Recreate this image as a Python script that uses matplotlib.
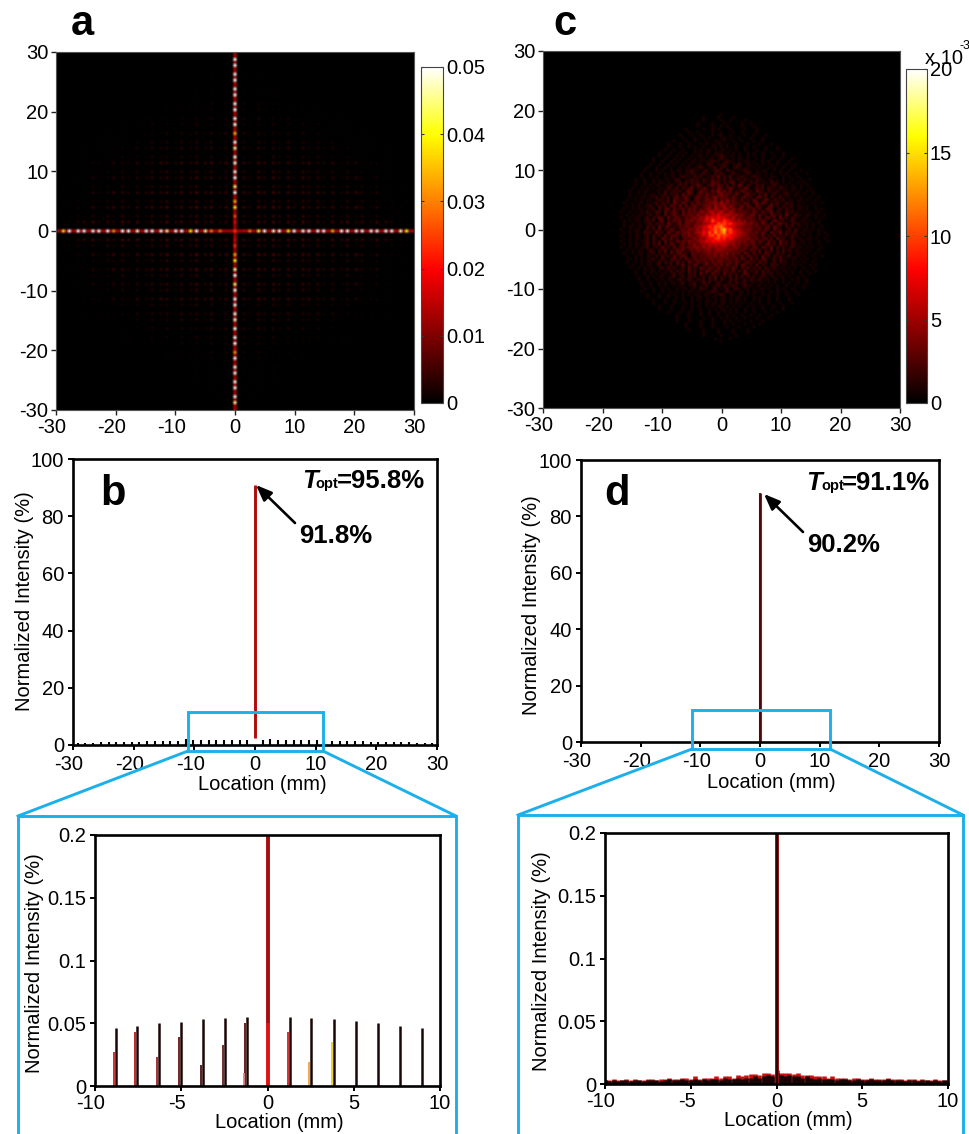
import numpy as np
import matplotlib
matplotlib.use("Agg")
import matplotlib.pyplot as plt
from matplotlib.colors import LinearSegmentedColormap
from matplotlib.transforms import ScaledTranslation

plt.rcParams['font.family'] = ['Liberation Sans', 'DejaVu Sans']
plt.rcParams['axes.unicode_minus'] = False

W, H = 969, 1134
FS = 14.5

# ---------- data ----------
spot_pitch = 1.27
# panel a: bright spots along the axes, from the centre outward (k = 1..23)
a_h_right = [.016,.030,.042,.050,.048,.052,.040,.052,.050,.054,.052,.050,.034,.052,.050,.052,.054,.050,.052,.050,.054,.048,.040]
a_h_left  = [.014,.028,.030,.046,.050,.040,.052,.050,.046,.052,.050,.052,.048,.050,.052,.032,.052,.050,.052,.054,.050,.052,.038]
a_v_up    = [.020,.026,.040,.034,.050,.044,.052,.054,.050,.052,.046,.054,.034,.052,.050,.052,.054,.050,.052,.054,.050,.052,.050]
a_v_down  = [.018,.024,.034,.040,.046,.052,.044,.050,.054,.050,.052,.048,.052,.050,.054,.032,.052,.050,.054,.052,.050,.054,.046]
a_line_level = 0.014
a_centre = 0.024
# panel a: weak spots, one quadrant, units of 1e-3 (rows k=1..23 upward, columns k=1..23 outward)
a_weak_rows = [
 "63758475846375846375321",
 "42536452635241524131211",
 "74869574857463574251210",
 "31425342534231423121101",
 "64758564756453563241110",
 "32415352434231412121001",
 "53647453645342452131100",
 "41525342534131312111000",
 "63756463564352341221000",
 "21314231323121211011000",
 "42534352434231211101000",
 "31424241323120111100000",
 "42423231312111101000000",
 "21213120212011100000000",
 "31312120111101000000000",
 "20211110101000000000000",
 "21211101100000000000000",
 "10111101000000000000000",
 "11101000000000000000000",
 "01101000000000000000000",
 "10100000000000000000000",
 "01000000000000000000000",
 "00000000000000000000000",
]
# panel c: speckle levels in units of 1e-3 on 0.5 mm cells, top row to bottom row
c_rows = [
 "1",
 "00100001000010000",
 "0000100000100100001000",
 "00010000100010000010010",
 "00001000010010100001000100",
 "0100000100101000100001000100",
 "00010010000100100010010000100",
 "001000100100010110010000100100010",
 "0001000100101000110100100010001000",
 "01000100100010011010010010001001000",
 "010001001000101010110100100010001000100",
 "00100010010100100110101001001001000100010",
 "0010010010001010110101101010010001001000100",
 "010001001010010101101110101010010100100100010",
 "00100100101001011010111210110100101001000100100",
 "0100010010100101011011012110101101001010010010001",
 "001001001010010110101121101211010110100101001000100",
 "0100100101001011011012101121011210110101001010010010",
 "01001001010010110112101120211012101101010010100100100",
 "001000101001011011211012012210211011211010110010100100010",
 "0100100101011010112101211021210121101210110101001010010001",
 "00100101001011012110212011213021201121012110101100101001000",
 "0100100101011012101121202112121202112021102110110101001001001",
 "01001001011010112021212021132202123012102120110211010100101000",
 "001001010110112012120213201231321202132021021201121101010010100",
 "0100101010110211202123021320213212320213201212021102110110100100",
 "01001011001102112120232013221324231302132120321021120110101001010",
 "010010101101120212031320231322134232132023120213012011210110100100",
 "0010101101120212023123102322313423321320231202312021120110101001001",
 "0100101011012112031213202312332413242321302132013202112011011010010",
 "010010110101202120321320313223344353423221320231320212102110101001001",
 "001010101120121203213031232133425345243123132032102312021120110100100",
 "0100101101120212303123132313244354354342331223130232012021101101001010",
 "01001010112012203123203132324435645643542323213203123021021201010100100",
 "0010101101202103123213233243354657556545342233131203212031021101101001",
 "01001011012021320312321323435476768675463432332130231203120211011001010",
 "00101011012120230213231334244576a87798654534233123201321201210110100100",
 "010010101120212032123133234355687a9a8976554342313213023120212011010100",
 "001011011021203123021323324456798bac98765443332321230321021201101010010",
 "010010110120213021320232343547689b9ce9a76543432231320312012021011010100",
 "0010101102120312032132334245586a8c9bd8a866543323132031230211201101001010",
 "01001011012021203123213243345769a8b9a98765443232130213021202110101001001",
 "0010101101202103213120232343546879a8978654434323123120312012011011010010",
 "010010101120212031213232433455768787765544342331320312031202101101001001",
 "00101011012021302132023133424546565665453423323120231203120211010100100",
 "01001010112012031203123233443545454554344323213203213021201201101010010",
 "0010101101210213021323123243344345443433232132130213020212011010100100",
 "010010110112021203123120323233434343423231320312032102120110110100100",
 "01001010110202120312320231323334243323213032120312021201201101001001",
 "00101010112012102312032132232332332322313203120320120211011010100100",
 "0100101011012021203120321322313233223132023120312012021101010100100",
 "001001011012011202130213202312323132130321203021021201101101001010",
 "01001010110120212012031203213213122132021302120211201101010010010",
 "0010010110101120212031202132132122130213021202120110110100101001",
 "01001010101101202102120312031203121201320120211201101010010010",
 "0010010101101120120212012021302112021202120121011011010010100",
 "010010010101101201210212021202102120120211201101101001010010",
 "00100100101011012011201212012101202112011011010100101001001",
 "0100100101001011011201120112021121012110110101010010010010",
 "001001001010010110110211012011201210110101101001010010001",
 "010001001001010101101101121101211011010110100101001001000",
 "0010001001010010101101110112101101101010010100100100010",
 "01000100100101001011010110110101101001010010010001000",
 "001000100100100101001101011010110100101001001000100",
 "0100010010001010010101101101010100100100100010001",
 "00100010001001010010101101010100101001000100100",
 "010001000100100100101011010100100100100100010",
 "00100010010001001001010101001001000100010",
 "0001000100010010010010100100100100010",
 "00100010000100100101001001000100010",
 "010001000100010001010010001000100",
 "0001000010001000100100010000100",
 "00100001000100001000100001000",
 "01000010000100001000010000",
 "0000100001000010000100",
 "00100000100001000",
 "0010000100",
 "1",
]
# panel b, wide view: stem heights (%) from the centre outward
b_stems_right = [1.9,2.2,1.7,1.6,1.7,1.6,1.6,1.6,1.5,1.5,1.4,1.4,1.3,1.3,1.2,1.2,1.1,1.1,1.0,0.9,0.8,0.7,0.6]
b_stems_left  = [1.7,1.6,1.7,1.6,1.8,1.6,1.6,1.7,2.1,1.5,1.4,1.4,1.3,1.3,1.2,1.2,1.1,1.0,1.0,0.9,0.8,0.7,0.6]
b_peak_low, b_peak = 2.5, 90.9
d_peak = 88.3
# panel b inset
b_in_x = [-8.8,-7.55,-6.3,-5.0,-3.75,-2.45,-1.2,1.3,2.55,3.85,5.15,6.4,7.7,8.95]
b_in_y = [.046,.048,.050,.051,.053,.054,.055,.055,.054,.053,.052,.050,.048,.046]
b_sub_x = [-8.92,-7.67,-6.42,-5.12,-3.87,-2.57,-1.32,-1.38,1.18,2.43,3.73]
b_sub_y = [.027,.043,.023,.039,.017,.033,.050,.010,.043,.019,.035]
b_sub_c = ['#d02020','#c01818','#a02020','#701010','#501010','#602020','#601010','#e08080','#d02020','#f0a040','#e8d020']
b_in_low, b_in_split, b_in_top = 0.0, 0.05, 0.2
# panel d inset: dense profile, -10..10 every 0.25 mm
d_in_x = [-10+0.25*i for i in range(81)]
d_in_black = [.003,.002,.003,.002,.003,.003,.002,.003,.003,.002,.003,.003,.003,.002,.003,.004,.003,.003,.004,.003,
 .003,.004,.003,.004,.003,.004,.004,.003,.005,.004,.004,.005,.004,.005,.005,.006,.005,.006,.007,.006,
 .009,.007,.006,.007,.006,.006,.005,.006,.005,.004,.005,.004,.004,.004,.003,.004,.004,.003,.003,.004,
 .003,.003,.004,.003,.003,.003,.004,.003,.003,.003,.002,.003,.003,.002,.003,.003,.002,.003,.002,.003,.002]
d_in_red = [.003,.003,.004,.003,.003,.004,.003,.004,.003,.003,.004,.004,.003,.004,.004,.005,.004,.004,.005,.005,
 .004,.006,.004,.005,.005,.005,.006,.005,.006,.006,.005,.007,.006,.007,.008,.008,.007,.009,.009,.008,
 .011,.009,.009,.009,.008,.009,.007,.007,.007,.006,.006,.006,.005,.006,.005,.005,.005,.004,.005,.005,
 .004,.004,.005,.004,.004,.004,.005,.004,.004,.004,.003,.004,.004,.003,.004,.003,.003,.004,.003,.003,.003]
# tick labels
heat_ticks = [-30,-20,-10,0,10,20,30]
line_yticks = [0,20,40,60,80,100]
inset_xticks = [-10,-5,0,5,10]
inset_yticks = [0,0.05,0.1,0.15,0.2]
inset_ylabels = ['0','0.05','0.1','0.15','0.2']
cb_a_ticks = [0,.01,.02,.03,.04,.05]
cb_a_labels = ['0','0.01','0.02','0.03','0.04','0.05']
cb_c_ticks = [0,5,10,15,20]

# ---------- helpers ----------
fig = plt.figure(figsize=(W/100, H/100), dpi=100, facecolor='white')

def ax_px(l, t, r, b, **kw):
    return fig.add_axes([l/W, 1-b/H, (r-l)/W, (b-t)/H], **kw)

cmap = LinearSegmentedColormap.from_list('fire', [(0,'#000000'),(0.4,'#ff0000'),(0.8,'#ffff00'),(1,'#ffffff')])

def shift_neg(ax):
    off = ScaledTranslation(-4/100, 0, fig.dpi_scale_trans)
    for lab in ax.get_xticklabels():
        if lab.get_text().startswith('-'):
            lab.set_transform(lab.get_transform() + off)

def style_heat(ax):
    ax.set_xticks(heat_ticks); ax.set_yticks(heat_ticks)
    ax.tick_params(labelsize=FS, length=3.5, width=1, color='#222222')
    ax.tick_params(axis='x', pad=2.5)
    ax.tick_params(axis='y', pad=2)
    for s in ax.spines.values():
        s.set_linewidth(0.8); s.set_color('#555555')
    shift_neg(ax)

def style_line(ax, xlim, ylim, xt, yt, yl=None, xpad=1.5):
    ax.set_xlim(xlim); ax.set_ylim(ylim)
    ax.set_xticks(xt); ax.set_yticks(yt)
    if yl: ax.set_yticklabels(yl)
    ax.tick_params(labelsize=FS, length=3.5, width=1.4, color='black')
    ax.tick_params(axis='x', pad=xpad)
    ax.tick_params(axis='y', pad=3)
    for s in ax.spines.values():
        s.set_linewidth(1.9)
    shift_neg(ax)

# ---------- panel a ----------
n = 121
img_a = np.zeros((n, n))
idx = lambda mm: int(round((mm + 30) / 60 * (n - 1)))
mid = idx(0)
img_a[mid, :] = a_line_level
img_a[:, mid] = a_line_level
for k in range(1, 24):
    p = k * spot_pitch
    img_a[mid, idx(p)] = a_h_right[k-1]
    img_a[mid, idx(-p)] = a_h_left[k-1]
    img_a[idx(p), mid] = a_v_up[k-1]
    img_a[idx(-p), mid] = a_v_down[k-1]
    for m in range(1, 24):
        v = int(a_weak_rows[k-1][m-1]) * 0.75e-3
        q = m * spot_pitch
        img_a[idx(p), idx(q)] = v
        img_a[idx(p), idx(-q)] = v
        img_a[idx(-p), idx(q)] = v
        img_a[idx(-p), idx(-q)] = v
img_a[mid, mid] = a_centre

ax_a = ax_px(56, 52, 414, 410)
im_a = ax_a.imshow(img_a, origin='lower', extent=[-30,30,-30,30], cmap=cmap, vmin=0, vmax=0.05,
                   interpolation='bilinear', aspect='auto')
style_heat(ax_a)
cax_a = ax_px(421, 67, 443, 403)
cb_a = fig.colorbar(im_a, cax=cax_a, ticks=cb_a_ticks)
cb_a.ax.set_yticklabels(cb_a_labels)
cb_a.ax.tick_params(labelsize=FS, direction='in', length=2.5, width=0.8, pad=2, left=True, color='#333333')
cb_a.outline.set_linewidth(0.8); cb_a.outline.set_edgecolor('#444444')

# ---------- panel c ----------
c_n = 121
img_c = np.zeros((c_n, c_n))
c_width = 81
margin = (c_n - c_width) // 2
top = (c_n - len(c_rows)) // 2
for r, row in enumerate(c_rows):
    txt = row.center(c_width, '0')[:c_width]
    for col, ch in enumerate(txt):
        img_c[c_n - 1 - (r + top), col + margin] = int(ch, 16)
ax_c = ax_px(543, 51, 900, 408)
im_c = ax_c.imshow(img_c, origin='lower', extent=[-30,30,-30,30], cmap=cmap, vmin=0, vmax=20,
                   interpolation='bilinear', aspect='auto')
style_heat(ax_c)
cax_c = ax_px(906, 69, 927, 403)
cb_c = fig.colorbar(im_c, cax=cax_c, ticks=cb_c_ticks)
cb_c.ax.tick_params(labelsize=FS, direction='in', length=2.5, width=0.8, pad=2, left=True, color='#333333')
cb_c.outline.set_linewidth(0.8); cb_c.outline.set_edgecolor('#444444')

# ---------- panel b ----------
ax_b = ax_px(73, 459, 437, 745)
k = np.arange(1, 24)
ax_b.vlines(k * spot_pitch, 0, b_stems_right, color='black', lw=1.5)
ax_b.vlines(-k * spot_pitch, 0, b_stems_left, color='black', lw=1.5)
ax_b.vlines([0], [b_peak_low], [b_peak], color='#b00a0a', lw=2.1)
style_line(ax_b, (-30,30), (0,100), heat_ticks, line_yticks, xpad=4)

# ---------- panel d ----------
ax_d = ax_px(581, 460, 939, 742)
ax_d.vlines([0], [0], [d_peak], color='#a01010', lw=2.2)
ax_d.vlines([0], [0], [d_peak], color='#400808', lw=1.2)
style_line(ax_d, (-30,30), (0,100), heat_ticks, line_yticks, xpad=4)

# ---------- inset b ----------
ax_bi = ax_px(95, 835, 440, 1086)
ax_bi.vlines(b_sub_x, 0, b_sub_y, colors=b_sub_c, lw=1.3)
ax_bi.vlines(b_in_x, 0, b_in_y, color='#1a0505', lw=1.8)
ax_bi.vlines([0], [b_in_split], [b_in_top], color='#a80c0c', lw=2.8)
ax_bi.vlines([0], [b_in_low], [b_in_split], color='#e01010', lw=2.8)
style_line(ax_bi, (-10,10), (0,0.2), inset_xticks, inset_yticks, inset_ylabels, xpad=2.5)

# ---------- inset d ----------
ax_di = ax_px(605, 833, 948, 1084)
ax_di.vlines(d_in_x, 0, d_in_red, color='#c81010', lw=3.3)
ax_di.vlines(d_in_x, 0, d_in_black, color='#140404', lw=3.3)
ax_di.vlines([0], [0], [0.2], color='#a81010', lw=2.8)
ax_di.vlines([0], [0], [0.2], color='#280606', lw=1.7)
style_line(ax_di, (-10,10), (0,0.2), inset_xticks, inset_yticks, inset_ylabels, xpad=2.5)

# ---------- overlay in pixel coordinates ----------
ov = fig.add_axes([0,0,1,1], facecolor='none', zorder=10)
ov.set_xlim(0, W); ov.set_ylim(H, 0); ov.axis('off')
BLUE = '#1cb0ea'
for pts in ([(18,1134),(18,816),(456,816),(456,1134)],
            [(18,816),(188,751)], [(456,816),(323,751)],
            [(188,751),(188,712),(323,712),(323,751),(188,751)],
            [(518,1134),(518,815),(963,815),(963,1134)],
            [(518,815),(692,749)], [(963,815),(830,749)],
            [(692,749),(692,710),(830,710),(830,749),(692,749)]):
    xs, ys = zip(*pts)
    ov.plot(xs, ys, color=BLUE, lw=2.1, solid_joinstyle='miter', clip_on=True)

def t(x, y, s, **kw):
    kw.setdefault('fontsize', FS)
    kw.setdefault('ha', 'center'); kw.setdefault('va', 'center')
    ov.text(x, y, s, **kw)

for x, y, s in [(71,35,'a'),(553,35,'c'),(100,505,'b'),(604,505,'d')]:
    t(x, y, s, fontsize=30, fontweight='bold', ha='left', va='baseline')

t(262,784,'Location (mm)'); t(771,782,'Location (mm)')
t(279,1122,'Location (mm)'); t(788,1120,'Location (mm)')
t(25,601,'Normalized Intensity (%)',rotation=90)
t(532,605,'Normalized Intensity (%)',rotation=90)
t(35,963,'Normalized Intensity (%)',rotation=90)
t(542,961,'Normalized Intensity (%)',rotation=90)

t(925,58,'x 10',ha='left',fontsize=FS)
t(960,46,'-3',ha='left',fontsize=9)

for xT, xo, xe, yb, s in [(302,315,337,488,'=95.8%'),(806,821,842,490,'=91.1%')]:
    t(xT,yb,'T',fontsize=18.5,fontweight='bold',fontstyle='italic',ha='left',va='baseline')
    t(xo,yb,'opt',fontsize=10.5,fontweight='bold',ha='left',va='baseline')
    t(xe,yb,s,fontsize=18.5,fontweight='bold',ha='left',va='baseline')
t(299,543,'91.8%',fontsize=18.5,fontweight='bold',ha='left',va='baseline')
t(807,552,'90.2%',fontsize=18.5,fontweight='bold',ha='left',va='baseline')

for start, end in [((295,523),(256,485)),((803,532),(764,494))]:
    ov.annotate('', xy=end, xytext=start, xycoords='data', textcoords='data',
                arrowprops=dict(arrowstyle='-|>,head_width=0.38,head_length=0.95', color='black', lw=1.9,
                                shrinkA=0, shrinkB=0))

fig.savefig('out.png', dpi=100, facecolor='white')
